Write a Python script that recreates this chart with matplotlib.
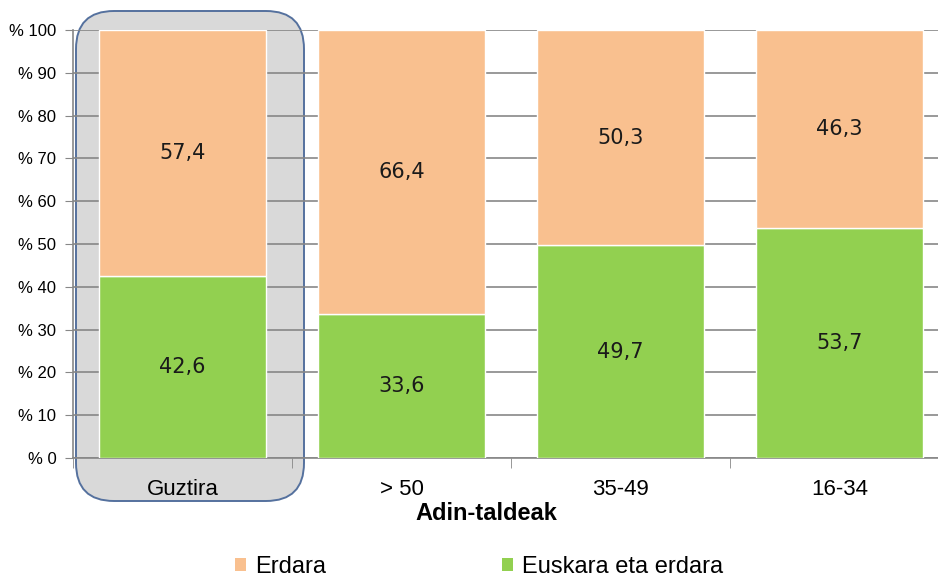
import matplotlib
matplotlib.use("Agg")
import matplotlib.pyplot as plt
from matplotlib.patches import FancyBboxPatch, Patch
from matplotlib.transforms import IdentityTransform
import numpy as np

categories = ["Guztira", "> 50", "35-49", "16-34"]
euskara_erdara = [42.6, 33.6, 49.7, 53.7]
erdara = [57.4, 66.4, 50.3, 46.3]
ytick_labels = ["% 0", "% 10", "% 20", "% 30", "% 40", "% 50", "% 60", "% 70", "% 80", "% 90", "% 100"]

ORANGE = "#F9C08F"
GREEN = "#92D050"

plt.rcParams['font.family'] = ['Liberation Sans', 'DejaVu Sans']

W, H = 938, 583
fig = plt.figure(figsize=(W / 100, H / 100), dpi=100)

# axes in pixel positions
x0, x1 = 73, 949
y0, y1 = 458, 30
ax = fig.add_axes([x0 / W, 1 - y0 / H, (x1 - x0) / W, (y0 - y1) / H])
ax.set_facecolor('none')

# grey highlight box behind first category
box = FancyBboxPatch((76, H - 501), 228, 490,
                     boxstyle="round,pad=0,rounding_size=38",
                     transform=IdentityTransform(), facecolor="#D9D9D9",
                     edgecolor="#55719E", linewidth=1.4, zorder=-5)
fig.patches.append(box)

x = np.arange(len(categories))
w = 0.76
ax.bar(x, euskara_erdara, width=w, color=GREEN, edgecolor="white", linewidth=1, zorder=3)
ax.bar(x, erdara, width=w, bottom=euskara_erdara, color=ORANGE, edgecolor="white", linewidth=1, zorder=3)

for i in range(len(categories)):
    ax.text(x[i], euskara_erdara[i] / 2, f"{euskara_erdara[i]:.1f}".replace(".", ","),
            ha="center", va="center", fontsize=15, color="#1a1a1a", zorder=4,
            family="DejaVu Sans")
    ax.text(x[i], euskara_erdara[i] + erdara[i] / 2, f"{erdara[i]:.1f}".replace(".", ","),
            ha="center", va="center", fontsize=15, color="#1a1a1a", zorder=4,
            family="DejaVu Sans")

ax.set_xlim(-0.5, len(categories) - 0.5)
ax.set_ylim(0, 100)
ax.set_yticks(np.arange(0, 101, 10))
ax.set_yticklabels(ytick_labels, fontsize=12)
ax.yaxis.grid(True, color="#878787", linewidth=1.2, zorder=0)
ax.set_axisbelow(True)

ax.set_xticks(x)
ax.set_xticklabels(categories, fontsize=16)
ax.tick_params(axis='x', length=0, pad=15)
ax.set_xticks(np.arange(-0.5, len(categories), 1), minor=True)
ax.tick_params(axis='x', which='minor', length=7, color="#878787", direction='out')
ax.tick_params(axis='y', length=6, color="#878787", pad=6)

for s in ["top", "right"]:
    ax.spines[s].set_visible(False)
ax.spines["left"].set_color("#878787")
ax.spines["bottom"].set_color("#878787")
ax.spines["left"].set_linewidth(1.2)
ax.spines["bottom"].set_linewidth(1.2)

ax.set_xlabel("Adin-taldeak", fontsize=17, fontweight="bold")
ax.xaxis.set_label_coords((486 - x0) / (x1 - x0), -(514 - y0) / (y0 - y1))
ax.xaxis.label.set_va("center")

handles = [Patch(facecolor=ORANGE, edgecolor="none"), Patch(facecolor=GREEN, edgecolor="none")]
fig.legend(handles, ["Erdara", "Euskara eta erdara"], loc="center", bbox_to_anchor=(0.511, 0.028),
           ncol=2, frameon=False, fontsize=17, handlelength=0.45, handleheight=0.45,
           handletextpad=0.4, columnspacing=7.45)

fig.savefig("out.png", dpi=100)
